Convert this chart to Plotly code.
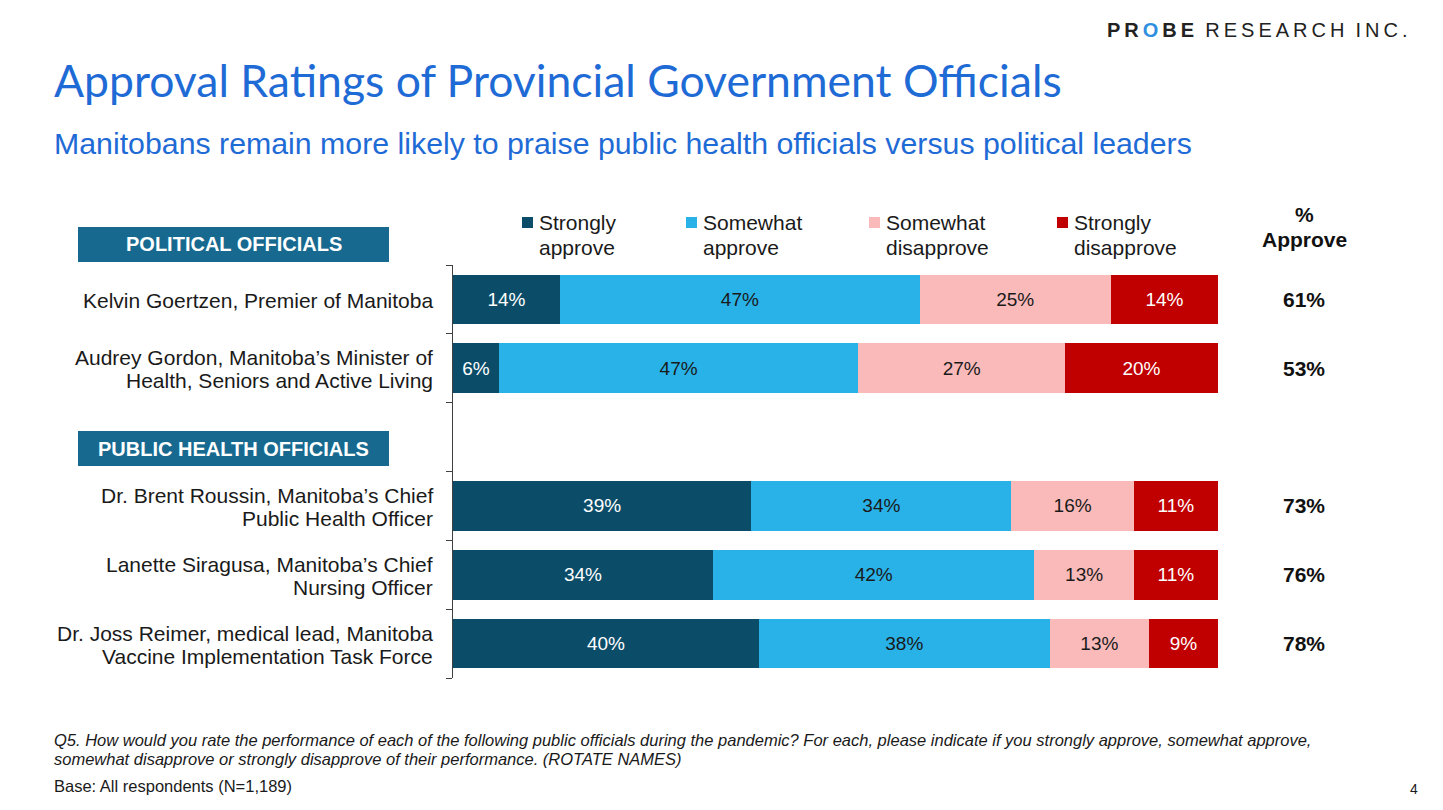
import plotly.graph_objects as go

# page body has an 8px margin; figure sized to fit the viewport
OFF = 8
W, H = 1443 - 2 * OFF, 810 - 2 * OFF

# ---------------- data ----------------
categories = [
    "Kelvin Goertzen, Premier of Manitoba",
    "Audrey Gordon, Manitoba’s Minister of<br>Health, Seniors and Active Living",
    "",
    "Dr. Brent Roussin, Manitoba’s Chief<br>Public Health Officer",
    "Lanette Siragusa, Manitoba’s Chief<br>Nursing Officer",
    "Dr. Joss Reimer, medical lead, Manitoba<br>Vaccine Implementation Task Force",
]
strongly_approve = [14, 6, None, 39, 34, 40]
somewhat_approve = [47, 47, None, 34, 42, 38]
somewhat_disapprove = [25, 27, None, 16, 13, 13]
strongly_disapprove = [14, 20, None, 11, 11, 9]
pct_approve = [61, 53, None, 73, 76, 78]

series_names = ["Strongly<br>approve", "Somewhat<br>approve", "Somewhat<br>disapprove", "Strongly<br>disapprove"]
series_values = [strongly_approve, somewhat_approve, somewhat_disapprove, strongly_disapprove]
series_colors = ["#0B4D69", "#29B2E8", "#FBBABA", "#C00000"]
text_colors = ["#FFFFFF", "#1A1A1A", "#1A1A1A", "#FFFFFF"]

section_labels = ["POLITICAL OFFICIALS", "PUBLIC HEALTH OFFICIALS"]

# ---------------- helpers ----------------
def px(x):
    return (x - OFF) / W

def py(y):
    return 1 - (y - OFF) / H

ARIAL = "Liberation Sans, Arial"
ypos = list(range(len(categories)))

fig = go.Figure()
for name, vals, col, tcol in zip(series_names, series_values, series_colors, text_colors):
    fig.add_trace(go.Bar(
        y=ypos, x=vals, orientation="h", name=name,
        marker=dict(color=col, line=dict(width=0)),
        width=0.72,
        text=[f"{v}%" if v is not None else "" for v in vals],
        textposition="inside", insidetextanchor="middle", textangle=0,
        textfont=dict(family=ARIAL, size=19, color=tcol),
        showlegend=False, hoverinfo="skip",
    ))

x0, x1 = 453, 1218
y0, y1 = 265, 678

fig.update_layout(
    width=W, height=H, barmode="stack",
    margin=dict(l=0, r=0, t=0, b=0),
    paper_bgcolor="white", plot_bgcolor="white",
    xaxis=dict(domain=[px(x0), px(x1)], range=[0, 100], visible=False, fixedrange=True),
    yaxis=dict(domain=[py(y1), py(y0)], range=[len(categories) - 0.5, -0.5],
               showline=True, linecolor="#404040", linewidth=1,
               tickmode="array", tickvals=[i - 0.5 for i in range(len(categories) + 1)],
               ticks="outside", ticklen=6, tickcolor="#404040", tickwidth=1,
               showticklabels=False, showgrid=False, zeroline=False, fixedrange=True),
    showlegend=False,
)

annotations = []
shapes = []

def multiline(text, x, y, xref, yref, size, xanchor, color="#1A1A1A", family=ARIAL,
              spacing=23, bold=False, italic=False, yshift0=0.0):
    lines = text.split("<br>")
    n = len(lines)
    for k, ln in enumerate(lines):
        t = ln
        if bold:
            t = f"<b>{t}</b>"
        if italic:
            t = f"<i>{t}</i>"
        shift = yshift0 + ((n - 1) / 2 - k) * spacing
        annotations.append(dict(xref=xref, yref=yref, x=x, y=y, text=t, yshift=shift,
                                xanchor=xanchor, yanchor="middle", showarrow=False,
                                font=dict(family=family, size=size, color=color)))

# category labels
for i, c in enumerate(categories):
    if c:
        multiline(c, px(435), i, "paper", "y", 21, "right", spacing=23, yshift0=-1)

# % approve column
multiline("%<br>Approve", px(1304), py(226.5), "paper", "paper", 21, "center",
          color="#111111", spacing=25, bold=True)
for i, v in enumerate(pct_approve):
    if v is not None:
        annotations.append(dict(xref="paper", yref="y", x=px(1304), y=i, text=f"<b>{v}%</b>",
                                xanchor="center", yanchor="middle", showarrow=False,
                                font=dict(family=ARIAL, size=21, color="#111111")))

# legend (manual)
sq_x = [522, 686, 869, 1057]
for name, col, sx in zip(series_names, series_colors, sq_x):
    shapes.append(dict(type="rect", xref="paper", yref="paper",
                       x0=px(sx), x1=px(sx + 11), y0=py(228), y1=py(217),
                       fillcolor=col, line=dict(width=0)))
    multiline(name, px(sx + 15), py(234.5), "paper", "paper", 21, "left", spacing=25)

# section boxes
for lbl, (by0, by1) in zip(section_labels, [(227, 262), (431, 466)]):
    shapes.append(dict(type="rect", xref="paper", yref="paper",
                       x0=px(78), x1=px(389), y0=py(by1), y1=py(by0),
                       fillcolor="#17698F", line=dict(width=0)))
    annotations.append(dict(xref="paper", yref="paper", x=px(233.5), y=py((by0 + by1) / 2),
                            text=f"<b>{lbl}</b>", xanchor="center", yanchor="middle", showarrow=False,
                            font=dict(family=ARIAL, size=20, color="white")))

# title & subtitle
annotations.append(dict(xref="paper", yref="paper", x=px(52), y=py(80),
                        text="Approval Ratings of Provincial Government Officials",
                        xanchor="left", yanchor="middle", showarrow=False,
                        font=dict(family="Lato, Open Sans", size=44.5, color="#1F6BD6")))
annotations.append(dict(xref="paper", yref="paper", x=px(52), y=py(143),
                        text="Manitobans remain more likely to praise public health officials versus political leaders",
                        xanchor="left", yanchor="middle", showarrow=False,
                        font=dict(family=ARIAL, size=30.3, color="#1F6BD6")))

# logo
ts = "\u2009"
probe = ts.join(["P", "R", "<span style='color:#2E8FE0'>O</span>", "B", "E"])
research = ts.join(list("RESEARCH")) + "  " + ts.join(list("INC."))
annotations.append(dict(xref="paper", yref="paper", x=px(1410), y=py(30),
                        text=f"<b>{probe}</b>  {research}",
                        xanchor="right", yanchor="middle", showarrow=False,
                        font=dict(family=ARIAL, size=20, color="#222222")))

# footnotes
NARROW = "Liberation Sans Narrow, Arial Narrow, Liberation Sans"
multiline("Q5. How would you rate the performance of each of the following public officials during the pandemic? For each, please indicate if you strongly approve, somewhat approve,"
          "<br>somewhat disapprove or strongly disapprove of their performance. (ROTATE NAMES)",
          px(52), py(749.5), "paper", "paper", 16.5, "left", family=NARROW, spacing=19, italic=True)
annotations.append(dict(xref="paper", yref="paper", x=px(52), y=py(786),
                        text="Base: All respondents (N=1,189)",
                        xanchor="left", yanchor="middle", showarrow=False,
                        font=dict(family=NARROW, size=16.5, color="#1A1A1A")))
annotations.append(dict(xref="paper", yref="paper", x=px(1414), y=py(789), text="4",
                        xanchor="center", yanchor="middle", showarrow=False,
                        font=dict(family=ARIAL, size=14, color="#1A1A1A")))

fig.update_layout(annotations=annotations, shapes=shapes)
fig.write_html("out.html")
